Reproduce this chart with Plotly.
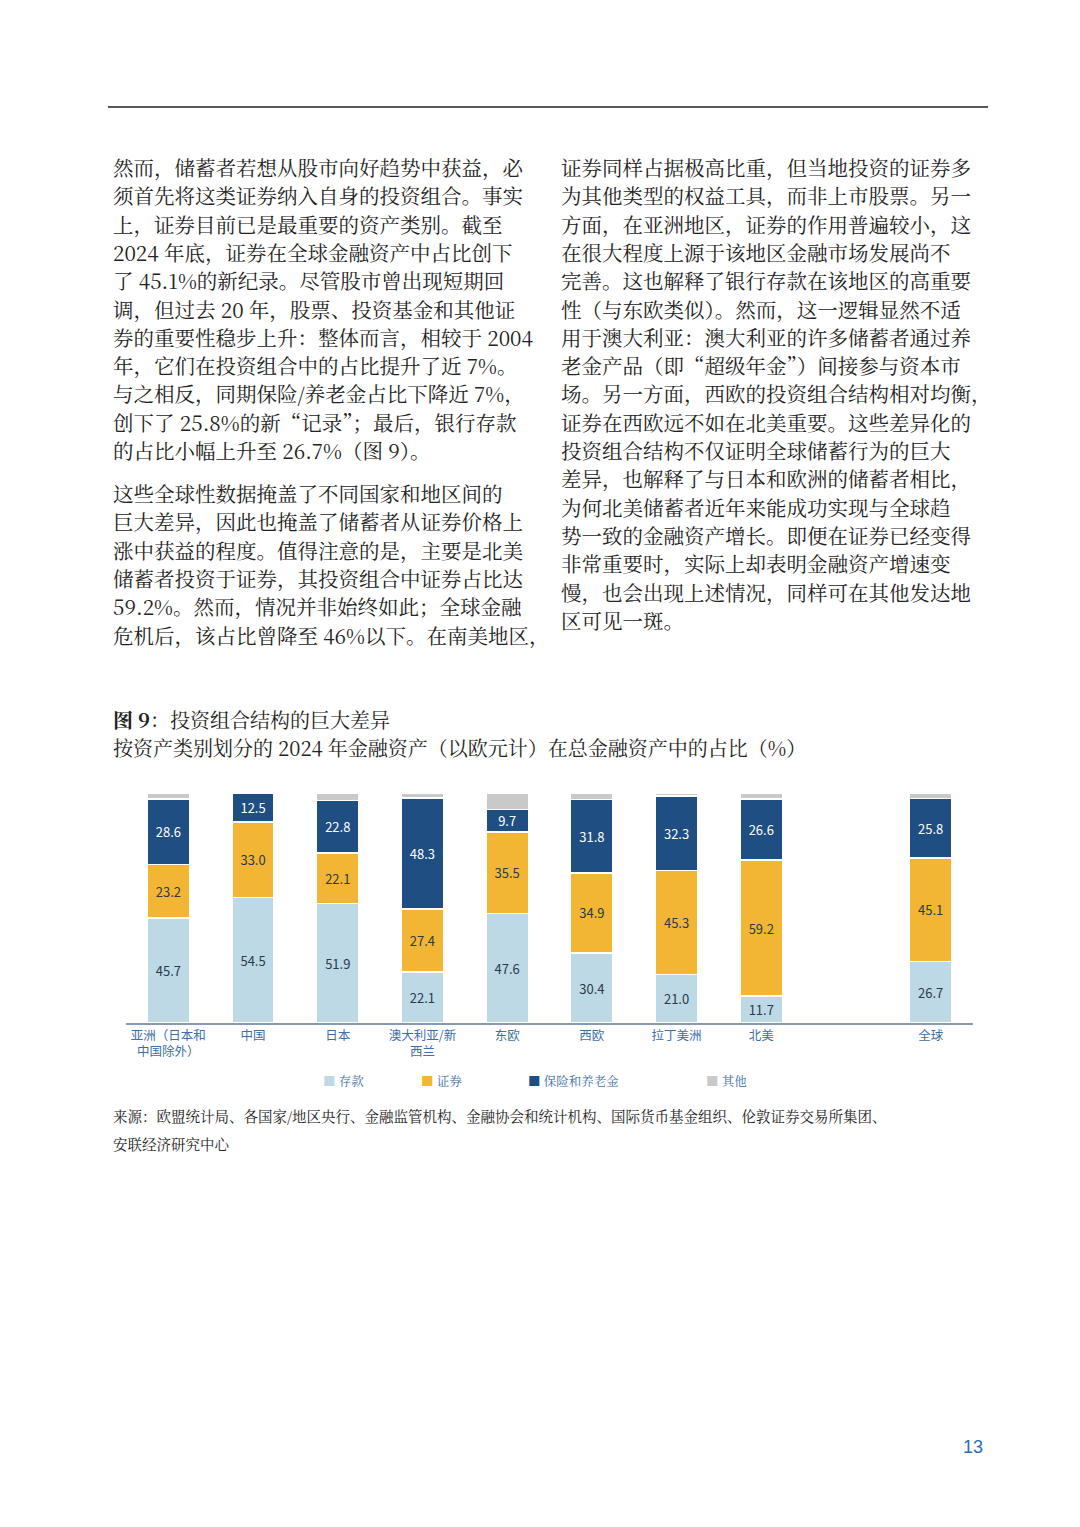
import plotly.graph_objects as go

categories = ["亚洲（日本和<br>中国除外）", "中国", "日本", "澳大利亚/新<br>西兰", "东欧", "西欧", "拉丁美洲", "北美", "全球"]
positions = [0, 1, 2, 3, 4, 5, 6, 7, 9]
deposits = [45.7, 54.5, 51.9, 22.1, 47.6, 30.4, 21.0, 11.7, 26.7]
securities = [23.2, 33.0, 22.1, 27.4, 35.5, 34.9, 45.3, 59.2, 45.1]
insurance = [28.6, 12.5, 22.8, 48.3, 9.7, 31.8, 32.3, 26.6, 25.8]
other = [2.5, 0.0, 3.2, 2.2, 7.2, 2.9, 1.4, 2.5, 2.4]
series_names = ["存款", "证券", "保险和养老金", "其他"]
colors = ["#BDD9E6", "#F2B634", "#1F4E82", "#C9C9C9"]
text_colors = ["#2b3a4a", "#2b3a4a", "#ffffff", "#ffffff"]

left_col = [
    "然而，储蓄者若想从股市向好趋势中获益，必",
    "须首先将这类证券纳入自身的投资组合。事实",
    "上，证券目前已是最重要的资产类别。截至",
    "2024 年底，证券在全球金融资产中占比创下",
    "了 45.1%的新纪录。尽管股市曾出现短期回",
    "调，但过去 20 年，股票、投资基金和其他证",
    "券的重要性稳步上升：整体而言，相较于 2004",
    "年，它们在投资组合中的占比提升了近 7%。",
    "与之相反，同期保险/养老金占比下降近 7%，",
    "创下了 25.8%的新“记录”；最后，银行存款",
    "的占比小幅上升至 26.7%（图 9）。",
]
left_col2 = [
    "这些全球性数据掩盖了不同国家和地区间的",
    "巨大差异，因此也掩盖了储蓄者从证券价格上",
    "涨中获益的程度。值得注意的是，主要是北美",
    "储蓄者投资于证券，其投资组合中证券占比达",
    "59.2%。然而，情况并非始终如此；全球金融",
    "危机后，该占比曾降至 46%以下。在南美地区，",
]
right_col = [
    "证券同样占据极高比重，但当地投资的证券多",
    "为其他类型的权益工具，而非上市股票。另一",
    "方面，在亚洲地区，证券的作用普遍较小，这",
    "在很大程度上源于该地区金融市场发展尚不",
    "完善。这也解释了银行存款在该地区的高重要",
    "性（与东欧类似）。然而，这一逻辑显然不适",
    "用于澳大利亚：澳大利亚的许多储蓄者通过养",
    "老金产品（即“超级年金”）间接参与资本市",
    "场。另一方面，西欧的投资组合结构相对均衡，",
    "证券在西欧远不如在北美重要。这些差异化的",
    "投资组合结构不仅证明全球储蓄行为的巨大",
    "差异，也解释了与日本和欧洲的储蓄者相比，",
    "为何北美储蓄者近年来能成功实现与全球趋",
    "势一致的金融资产增长。即便在证券已经变得",
    "非常重要时，实际上却表明金融资产增速变",
    "慢，也会出现上述情况，同样可在其他发达地",
    "区可见一斑。",
]

W, H = 1080, 1527
fig = go.Figure()
for vals, name, c, tc in zip([deposits, securities, insurance, other], series_names, colors, text_colors):
    fig.add_bar(x=positions, y=vals, name=name, marker=dict(color=c, line=dict(color="white", width=1.5)),
                width=0.5, text=[f"{v:.1f}" if name != "其他" else "" for v in vals],
                textposition="inside", insidetextanchor="middle", textangle=0,
                textfont=dict(size=13, color=tc, family="Noto Sans CJK SC"), showlegend=False)

fig.update_layout(
    width=W, height=H, barmode="stack", paper_bgcolor="white", plot_bgcolor="white",
    margin=dict(l=0, r=0, t=0, b=0), font=dict(family="Noto Sans CJK SC"),
    uniformtext=dict(minsize=13, mode="show"),
    xaxis=dict(domain=[118 / W, 965 / W], range=[-0.5, 9.5], tickvals=positions, ticktext=categories,
               showline=True, linecolor="#8a99ab", linewidth=2, ticks="", showgrid=False,
               tickfont=dict(size=12.5, color="#3c6ea8")),
    yaxis=dict(domain=[1 - 1015 / H, 1 - 785 / H], range=[0, 100], visible=False),
)

def pa(x, y, text, size=20.5, color="#222", anchor="left", family="Noto Serif CJK SC, Noto Sans CJK SC"):
    fig.add_annotation(x=x / W, y=1 - y / H, xref="paper", yref="paper", text=text, showarrow=False,
                       xanchor=anchor, yanchor="middle", font=dict(size=size, color=color, family=family))

sp = 28.3
for i, t in enumerate(left_col):
    pa(103, 159 + i * sp, t)
for i, t in enumerate(left_col2):
    pa(103, 485 + i * sp, t)
for i, t in enumerate(right_col):
    pa(551, 159 + i * sp, t)

fig.add_shape(type="line", xref="paper", yref="paper", x0=100 / W, x1=980 / W, y0=1 - 99 / H, y1=1 - 99 / H,
              line=dict(color="#222", width=1.5))
pa(103, 711, "<b>图 9</b>：投资组合结构的巨大差异", size=20)
pa(103, 739, "按资产类别划分的 2024 年金融资产（以欧元计）在总金融资产中的占比（%）", size=20)

leg_x = [313, 411, 518, 696]
for x, name, c in zip(leg_x, series_names, colors):
    pa(x, 1073, f"<span style='color:{c}'>■</span> {name}", size=12.5, color="#3c6ea8")

pa(103, 1107, "来源：欧盟统计局、各国家/地区央行、金融监管机构、金融协会和统计机构、国际货币基金组织、伦敦证券交易所集团、", size=14.5)
pa(103, 1135, "安联经济研究中心", size=14.5)
pa(977, 1439, "13", size=18, color="#2a6db5", anchor="right", family="Liberation Sans")

fig.write_html("out.html")
